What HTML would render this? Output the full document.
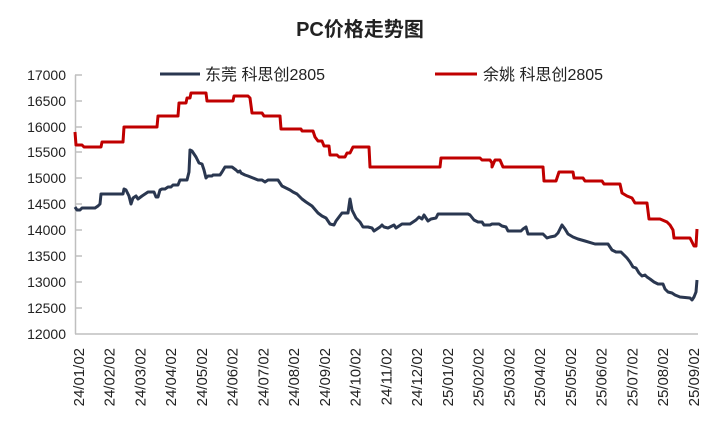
<!DOCTYPE html>
<html><head><meta charset="utf-8"><style>
body{margin:0;background:#fff;width:720px;height:432px;overflow:hidden}
svg text{font-family:"Liberation Sans","Noto Sans CJK SC",sans-serif;fill:#222}
</style></head><body>
<svg width="720" height="432" xmlns="http://www.w3.org/2000/svg">
<text x="360" y="36" text-anchor="middle" font-size="20" font-weight="bold">PC价格走势图</text>
<g stroke="#bfbfbf" stroke-width="1.5">
<line x1="75.5" y1="75" x2="75.5" y2="334"/>
<line x1="75" y1="334" x2="698" y2="334"/>
<line x1="75" y1="75" x2="82" y2="75"/><line x1="75" y1="101" x2="82" y2="101"/><line x1="75" y1="127" x2="82" y2="127"/><line x1="75" y1="152" x2="82" y2="152"/><line x1="75" y1="178" x2="82" y2="178"/><line x1="75" y1="204" x2="82" y2="204"/><line x1="75" y1="230" x2="82" y2="230"/><line x1="75" y1="256" x2="82" y2="256"/><line x1="75" y1="282" x2="82" y2="282"/><line x1="75" y1="308" x2="82" y2="308"/>
</g>
<g font-size="14" text-anchor="end">
<text x="66" y="80">17000</text><text x="66" y="106">16500</text><text x="66" y="132">16000</text><text x="66" y="157">15500</text><text x="66" y="183">15000</text><text x="66" y="209">14500</text><text x="66" y="235">14000</text><text x="66" y="261">13500</text><text x="66" y="287">13000</text><text x="66" y="313">12500</text><text x="66" y="339">12000</text>
</g>
<g font-size="15" text-anchor="end">
<text transform="translate(84,348) rotate(-90)">24/01/02</text>
<text transform="translate(114.7,348) rotate(-90)">24/02/02</text>
<text transform="translate(145.5,348) rotate(-90)">24/03/02</text>
<text transform="translate(176.2,348) rotate(-90)">24/04/02</text>
<text transform="translate(207,348) rotate(-90)">24/05/02</text>
<text transform="translate(237.7,348) rotate(-90)">24/06/02</text>
<text transform="translate(268.5,348) rotate(-90)">24/07/02</text>
<text transform="translate(299.2,348) rotate(-90)">24/08/02</text>
<text transform="translate(330,348) rotate(-90)">24/09/02</text>
<text transform="translate(360.7,348) rotate(-90)">24/10/02</text>
<text transform="translate(391.5,348) rotate(-90)">24/11/02</text>
<text transform="translate(422.2,348) rotate(-90)">24/12/02</text>
<text transform="translate(453,348) rotate(-90)">25/01/02</text>
<text transform="translate(483.7,348) rotate(-90)">25/02/02</text>
<text transform="translate(514.5,348) rotate(-90)">25/03/02</text>
<text transform="translate(545.2,348) rotate(-90)">25/04/02</text>
<text transform="translate(576,348) rotate(-90)">25/05/02</text>
<text transform="translate(606.7,348) rotate(-90)">25/06/02</text>
<text transform="translate(637.5,348) rotate(-90)">25/07/02</text>
<text transform="translate(668.2,348) rotate(-90)">25/08/02</text>
<text transform="translate(699,348) rotate(-90)">25/09/02</text>
</g>
<line x1="160" y1="74" x2="200" y2="74" stroke="#2a3750" stroke-width="3"/>
<text x="205" y="80" font-size="16">东莞 科思创2805</text>
<line x1="435" y1="74" x2="477" y2="74" stroke="#c00000" stroke-width="3"/>
<text x="483" y="80" font-size="16">余姚 科思创2805</text>
<polyline fill="none" stroke="#c00000" stroke-width="3" stroke-linejoin="round" points="75,132 76,145 82,145 84,147 101,147 102,142 123,142 124,127 157,127 158,116 178,116 179,103 186,103 187,98 190,98 191,93 206,93 207,101 233,101 234,96 248,96 250,98 252,113 262,113 264,116 280,116 281,129 301,129 302,131 313,131 315,137 318,141 322,141 324,146 329,146 330,155 337,155 339,157 345,157 347,153 350,153 353,147 369,147 370,167 440,167 441,158 480,158 482,160 490,160 492,163 492,167 495,160 500,160 503,167 543,167 544,181 556,181 559,172 573,172 574,178 583,178 585,181 602,181 604,184 620,184 622,193 627,196 632,198 635,203 647,203 649,219 660,219 667,222 670,225 673,230 674,238 690,238 692,242 694,246 696,246 697,229"/>
<polyline fill="none" stroke="#2a3750" stroke-width="3" stroke-linejoin="round" points="75,207 77,210 80,210 82,208 95,208 98,206 100,204 101,194 123,194 124,189 126,190 129,196 131,204 133,198 136,196 138,199 142,196 148,192 154,192 156,197 158,197 160,190 162,189 165,189 168,187 171,187 173,185 178,185 180,180 187,180 189,172 190,150 192,151 196,157 199,163 202,164 204,170 206,178 208,176 212,176 213,175 220,175 222,172 225,167 232,167 236,170 238,172 240,171 241,173 245,175 248,176 253,178 258,180 262,180 265,182 268,180 278,180 282,186 290,190 293,192 297,194 302,199 306,202 312,206 318,213 322,216 326,218 330,224 334,225 336,221 342,213 348,213 350,199 352,210 356,218 360,222 363,227 368,227 372,228 374,231 377,229 380,227 382,225 384,227 388,228 394,225 396,228 402,224 410,224 413,222 416,220 419,217 422,219 424,215 428,221 431,219 436,218 438,214 468,214 470,215 474,220 478,222 482,222 484,225 490,225 492,224 499,224 502,226 506,227 508,231 521,231 523,229 526,227 528,234 543,234 547,238 550,237 555,236 558,233 562,225 565,229 568,234 573,237 578,239 585,241 595,244 608,244 612,250 616,252 621,252 624,255 627,258 630,262 633,267 636,268 639,273 642,276 645,275 647,277 650,279 654,282 658,284 663,284 665,289 668,292 672,293 675,295 680,297 690,298 692,300 694,297 696,292 697,280"/>
</svg>
</body></html>
